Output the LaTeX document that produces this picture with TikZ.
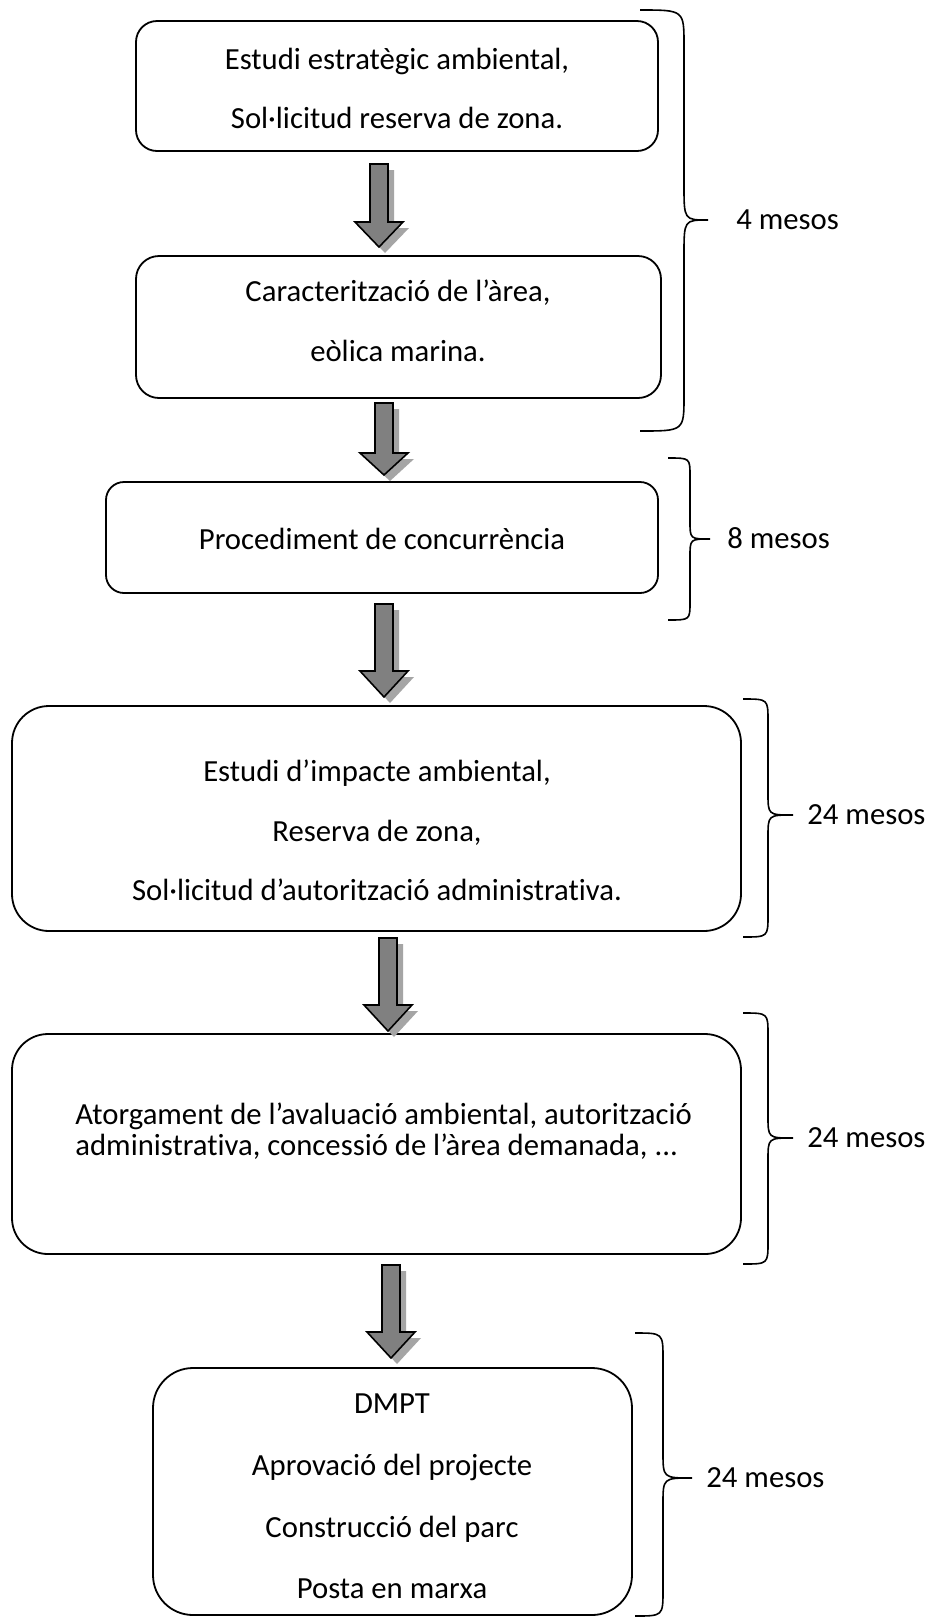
\documentclass[tikz,border=0pt]{standalone}
\usepackage{fontspec}
\setmainfont{Carlito}[Ligatures=NoCommon]
\definecolor{arrgray}{RGB}{128,128,128}
\definecolor{shadowgray}{RGB}{165,165,165}
\newcommand\blkarrow[5]{%
  \coordinate (#1) at (#2,#3);
  \begin{scope}[shift={(#1)}]
    \fill[arrshadow] (-3,6) -- (15,6) -- (15,{#4-#3+6}) -- (30,{#4-#3+6}) -- (6,{#5-#3+6}) -- (-18,{#4-#3+6}) -- (-3,{#4-#3+6}) -- cycle;
    \path[arrbody] (-9,0) -- (9,0) -- (9,{#4-#3}) -- (24,{#4-#3}) -- (0,{#5-#3}) -- (-24,{#4-#3}) -- (-9,{#4-#3}) -- cycle;
  \end{scope}}
\newcommand\drawbrace[7]{%
  \draw[bracest] (#1,#4) .. controls (#2,#4) .. (#2,{#4+#7}) -- (#2,{#5-#7}) .. controls (#2,#5) .. (#3,#5) .. controls (#2,#5) .. (#2,{#5+#7}) -- (#2,{#6-#7}) .. controls (#2,#6) .. (#1,#6);}
\begin{document}
\begin{tikzpicture}[x=0.5pt,y=-0.5pt,
  boxst/.style={draw=black, line width=0.9pt, rectangle, inner sep=0pt},
  txt/.style={align=center, inner sep=0pt},
  lab/.style={font=\fontsize{15.35}{18}\selectfont, anchor=base west, inner sep=0pt},
  arrbody/.style={fill=arrgray, draw=black, line width=0.8pt, line join=miter},
  arrshadow/.style={fill=shadowgray},
  bracest/.style={draw=black, line width=0.8pt}]
\useasboundingbox (0,0) rectangle (931,1618);
\fill[white] (0,0) rectangle (931,1618);

% boxes
\node[boxst, minimum width=261pt, minimum height=65pt, rounded corners=10.5pt] (b1) at (397,86) {};
\node[boxst, minimum width=262.5pt, minimum height=71pt, rounded corners=11.5pt] (b2) at (398.5,327) {};
\node[boxst, minimum width=276pt, minimum height=55.5pt, rounded corners=9pt] (b3) at (382,537.5) {};
\node[boxst, minimum width=364.5pt, minimum height=112.5pt, rounded corners=18.5pt] (b4) at (376.5,818.5) {};
\node[boxst, minimum width=364.5pt, minimum height=110pt, rounded corners=18pt] (b5) at (376.5,1144) {};
\node[boxst, minimum width=239.5pt, minimum height=123.5pt, rounded corners=20pt] (b6) at (392.5,1491.5) {};

% texts
\node[txt, font=\fontsize{15.35}{29.5}\selectfont] (t1) at (397,88.5) {Estudi estratègic ambiental,\\Sol·licitud reserva de zona.};
\node[txt, font=\fontsize{15.35}{30}\selectfont] (t2) at (398,321) {Caracterització de l’àrea,\\eòlica marina.};
\node[txt, font=\fontsize{15.35}{18}\selectfont] (t3) at (382,539) {Procediment de concurrència};
\node[txt, font=\fontsize{15.35}{29.75}\selectfont] (t4) at (377,830.5) {Estudi d’impacte ambiental,\\Reserva de zona,\\Sol·licitud d’autorització administrativa.};
\node[txt, align=left, anchor=west, font={\fontsize{15.35}{15.5}\selectfont\lineskiplimit=-10pt\relax}] (t5) at (75,1131.5) {Atorgament de l’avaluació ambiental, autorització\\administrativa, concessió de l’àrea demanada, ...};
\node[txt, font=\fontsize{15.35}{30.8}\selectfont] (t6) at (392,1496.5) {DMPT\\Aprovació del projecte\\Construcció del parc\\Posta en marxa};

% arrows
\blkarrow{a1}{379}{164}{222}{247}
\blkarrow{a2}{384}{403}{453}{475}
\blkarrow{a3}{384}{604}{671}{697}
\blkarrow{a4}{388}{938}{1005}{1031}
\blkarrow{a5}{391}{1265}{1332}{1358}

% braces
\drawbrace{640}{684}{708}{10}{220}{431}{35}
\drawbrace{668}{690}{710}{458}{539}{620}{18}
\drawbrace{743}{768}{793}{699}{815}{937}{22}
\drawbrace{743}{768}{793}{1013}{1138}{1264}{22}
\drawbrace{635}{663}{692}{1333}{1478}{1616}{26}

% labels
\node[lab] (l1) at (736,229) {4 mesos};
\node[lab] (l2) at (727,548) {8 mesos};
\node[lab] (l3) at (807,824) {24 mesos};
\node[lab] (l4) at (807,1147) {24 mesos};
\node[lab] (l5) at (706,1487) {24 mesos};
\end{tikzpicture}
\end{document}
